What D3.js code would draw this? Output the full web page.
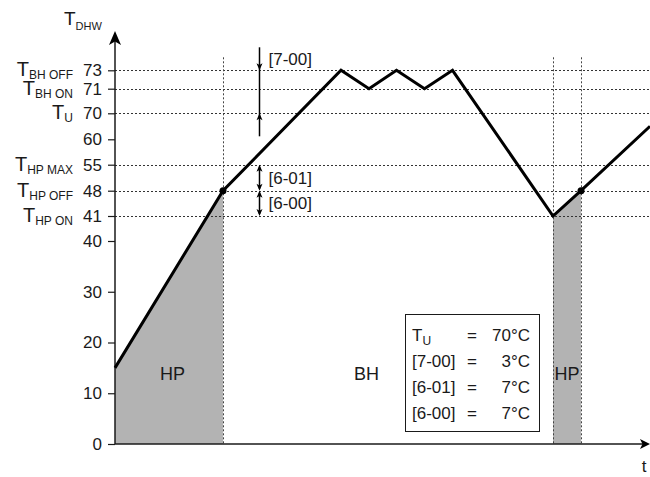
<!DOCTYPE html>
<html>
<head>
<meta charset="utf-8">
<script src="https://cdn.jsdelivr.net/npm/d3@7"></script>
<style>
  body { margin: 0; background: #fff; }
  svg { display: block; font-family: "Liberation Sans", Arial, sans-serif; }
</style>
</head>
<body>
<div id="chart"></div>
<script>
// DHW temperature profile (time in arbitrary units, temperature in °C)
const profileT    = [0, 21.6, 45.2, 50.8, 56.3, 61.9, 67.5, 87.6, 93.2, 107]
const profileTemp = [15, 48, 73, 71, 73, 71, 73, 41, 48, 65]

const tickValues  = [0, 10, 20, 30, 40, 41, 48, 55, 60, 70, 71, 73]
const levelValues = [73, 71, 70, 55, 48, 41]
const levelSubs   = ['BH OFF', 'BH ON', 'U', 'HP MAX', 'HP OFF', 'HP ON']

const switchT     = [21.6, 87.6, 93.2]
const hpStart     = [0, 87.6]
const hpEnd       = [21.6, 93.2]
const phaseNames  = ['HP', 'BH', 'HP']
const phaseT      = [11.5, 50.3, 90.4]

const legendKeys   = ['T', '[7-00]', '[6-01]', '[6-00]']
const legendValues = ['70°C', '3°C', '7°C', '7°C']

const width = 650, height = 477
const ink = '#1a1a1a'

const svg = d3.select('#chart').append('svg')
  .attr('width', width)
  .attr('height', height)

// time axis, origin at the temperature axis
const x = d3.scaleLinear().domain([0, 107]).range([115, 650])
// temperature axis is broken: linear up to 40, then evenly spaced set points
const y = d3.scaleLinear()
  .domain([0, 40, 41, 48, 55, 60, 70, 71, 73])
  .range([444, 241, 216, 190.7, 164.7, 139.3, 113.3, 88.7, 70.3])

const points = profileT.map((t, i) => ({t: t, v: profileTemp[i]}))

// heat pump periods shaded
const area = d3.area()
  .x(d => x(d.t))
  .y0(y(0))
  .y1(d => y(d.v))

hpStart.forEach((s, i) => {
  svg.append('path')
    .datum(points.filter(p => p.t >= s && p.t <= hpEnd[i]))
    .attr('d', area)
    .attr('fill', '#b3b3b3')
})

// dotted reference levels
svg.append('g').selectAll('line')
  .data(levelValues)
  .join('line')
  .attr('x1', x(0)).attr('x2', width)
  .attr('y1', d => Math.round(y(d)) + 0.5)
  .attr('y2', d => Math.round(y(d)) + 0.5)
  .attr('stroke', '#333')
  .attr('stroke-width', 1)
  .attr('stroke-dasharray', '2,2')

// dotted switching moments
svg.append('g').selectAll('line')
  .data(switchT)
  .join('line')
  .attr('x1', d => Math.round(x(d)) + 0.5)
  .attr('x2', d => Math.round(x(d)) + 0.5)
  .attr('y1', y(73) - 13).attr('y2', y(0))
  .attr('stroke', '#444')
  .attr('stroke-width', 1)
  .attr('stroke-dasharray', '2,2')

// phase labels
svg.append('g').selectAll('text')
  .data(phaseNames)
  .join('text')
  .attr('x', (d, i) => x(phaseT[i]))
  .attr('y', y(12.6))
  .attr('text-anchor', 'middle')
  .attr('font-size', 18)
  .attr('fill', ink)
  .text(d => d)

// y axis ticks
const yAxis = svg.append('g')
  .attr('transform', 'translate(' + x(0) + ',0)')
  .call(d3.axisLeft(y).tickValues(tickValues).tickSize(7).tickPadding(6).tickFormat(d3.format('d')))
yAxis.select('.domain').remove()
yAxis.selectAll('.tick line').attr('stroke', ink).attr('stroke-width', 1.2)
yAxis.selectAll('.tick text')
  .attr('font-size', 17)
  .attr('fill', ink)
  .attr('font-family', '"Liberation Sans", Arial, sans-serif')

// level names with subscripts
const names = svg.append('g').selectAll('text')
  .data(levelValues)
  .join('text')
  .attr('x', 73)
  .attr('y', d => y(d) + 6)
  .attr('text-anchor', 'end')
  .attr('fill', ink)
names.append('tspan').attr('font-size', 20).text('T')
names.append('tspan').attr('font-size', 12).attr('dy', 3).text((d, i) => levelSubs[i])

// axis lines with arrow heads
function arrowHead(tx, ty, dx, dy, len, half) {
  // tip at (tx,ty), pointing along (dx,dy)
  const bx = tx - dx * len, by = ty - dy * len
  const nx = -dy * half, ny = dx * half
  const notch = len * 0.25
  const p = d3.path()
  p.moveTo(tx, ty)
  p.lineTo(bx + nx, by + ny)
  p.lineTo(tx - dx * (len - notch), ty - dy * (len - notch))
  p.lineTo(bx - nx, by - ny)
  p.closePath()
  svg.append('path').attr('d', p.toString()).attr('fill', '#000')
}

svg.append('line')
  .attr('x1', x(0)).attr('x2', x(0))
  .attr('y1', y(0)).attr('y2', 38)
  .attr('stroke', ink).attr('stroke-width', 1.5)
arrowHead(x(0), 31, 0, -1, 14, 6)

svg.append('line')
  .attr('x1', x(0)).attr('x2', 644)
  .attr('y1', y(0)).attr('y2', y(0))
  .attr('stroke', ink).attr('stroke-width', 1.5)
arrowHead(650, y(0), 1, 0, 10, 5)

// axis titles
const yTitle = svg.append('text').attr('x', 64).attr('y', 25).attr('fill', ink)
yTitle.append('tspan').attr('font-size', 19).text('T')
yTitle.append('tspan').attr('font-size', 11).attr('dy', 5).text('DHW')
svg.append('text')
  .attr('x', 644).attr('y', 472)
  .attr('text-anchor', 'middle')
  .attr('font-size', 17)
  .attr('fill', ink)
  .text('t')

// temperature profile
const line = d3.line()
  .x(d => x(d.t))
  .y(d => y(d.v))

svg.append('path')
  .datum(points)
  .attr('d', line)
  .attr('fill', 'none')
  .attr('stroke', '#000')
  .attr('stroke-width', 3)

svg.append('g').selectAll('circle')
  .data(points.filter(p => p.v === 48))
  .join('circle')
  .attr('cx', d => x(d.t))
  .attr('cy', d => y(d.v))
  .attr('r', 3.5)
  .attr('fill', '#000')

// hysteresis annotations
const annT = 28.8
const ax = Math.round(x(annT)) + 0.5

svg.append('line')
  .attr('x1', ax).attr('x2', ax)
  .attr('y1', y(73) - 23).attr('y2', y(70) + 23)
  .attr('stroke', '#000').attr('stroke-width', 1.5)
arrowHead(ax, y(73), 0, 1, 7, 3)
arrowHead(ax, y(70), 0, -1, 7, 3)

const spans = [[48, 55], [41, 48]]
spans.forEach(s => {
  svg.append('line')
    .attr('x1', ax).attr('x2', ax)
    .attr('y1', y(s[1]) + 2).attr('y2', y(s[0]) - 2)
    .attr('stroke', '#000').attr('stroke-width', 1.5)
  arrowHead(ax, y(s[1]), 0, -1, 7, 3)
  arrowHead(ax, y(s[0]), 0, 1, 7, 3)
})

const annLabels = ['[7-00]', '[6-01]', '[6-00]']
const annY = [y(73) - 5, (y(55) + y(48)) / 2 + 6, (y(48) + y(41)) / 2 + 6]
svg.append('g').selectAll('text')
  .data(annLabels)
  .join('text')
  .attr('x', ax + 9)
  .attr('y', (d, i) => annY[i])
  .attr('font-size', 17)
  .attr('fill', ink)
  .text(d => d)

// settings box
const box = svg.append('g')
box.append('rect')
  .attr('x', 405.5).attr('y', 314.5)
  .attr('width', 134).attr('height', 117)
  .attr('fill', '#fff')
  .attr('stroke', ink)
  .attr('stroke-width', 1)

const rowY = i => 341 + i * 26
legendKeys.forEach((k, i) => {
  const t = box.append('text').attr('x', 412).attr('y', rowY(i)).attr('fill', ink).attr('font-size', 17)
  t.append('tspan').text(k)
  if (i === 0) t.append('tspan').attr('font-size', 12).attr('dy', 4).text('U')
  box.append('text')
    .attr('x', 472).attr('y', rowY(i))
    .attr('text-anchor', 'middle')
    .attr('font-size', 17).attr('fill', ink)
    .text('=')
  box.append('text')
    .attr('x', 530).attr('y', rowY(i))
    .attr('text-anchor', 'end')
    .attr('font-size', 17).attr('fill', ink)
    .text(legendValues[i])
})
</script>
</body>
</html>
